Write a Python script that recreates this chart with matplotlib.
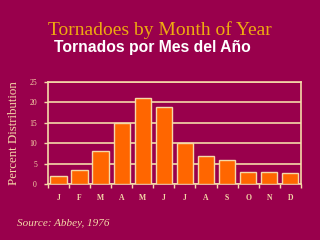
import matplotlib
matplotlib.use("Agg")
import matplotlib.pyplot as plt
import numpy as np

months = ["J", "F", "M", "A", "M", "J", "J", "A", "S", "O", "N", "D"]
percent = [2, 3.5, 8, 15, 21, 19, 10, 7, 6, 3, 3, 2.8]
yticks = [0, 5, 10, 15, 20, 25]

bg = "#99004C"
cream = "#F5D9A8"
bar_c = "#FF6600"

fig = plt.figure(figsize=(3.2, 2.4), dpi=100, facecolor=bg)
ax = fig.add_axes([0.15, 0.233, 0.79, 0.425], facecolor=bg)

x = np.arange(len(months))
ax.bar(x, percent, width=0.78, color=bar_c, edgecolor=cream, linewidth=1.0, zorder=3)

ax.set_xlim(-0.5, len(months) - 0.5)
ax.set_ylim(0, 25)
ax.set_yticks(yticks)
ax.set_yticklabels([str(v) for v in yticks], family="Liberation Serif", fontsize=5.5, color=cream)
ax.set_xticks(x)
ax.set_xticklabels(months, family="Liberation Serif", fontsize=5.5, color=cream, fontweight="bold")
ax.tick_params(axis="x", length=0, pad=7.5)
ax.set_xticks(np.arange(-0.5, len(months), 1), minor=True)
ax.tick_params(axis="x", which="minor", length=3, width=1, color=cream, direction="out")
ax.tick_params(axis="y", length=3, width=1, color=cream, pad=5)
ax.yaxis.grid(True, color=cream, linewidth=1.2, zorder=1)
ax.set_axisbelow(True)
for s in ["left", "bottom", "right", "top"]:
    ax.spines[s].set_color(cream)
    ax.spines[s].set_linewidth(1.2)

ax.set_ylabel("Percent Distribution", family="Liberation Serif", fontsize=9.3, color=cream, labelpad=7)

fig.text(0.5, 0.875, "Tornadoes by Month of Year", ha="center", va="center",
         family="Liberation Serif", fontsize=14, color="#EEAA10")
fig.text(0.475, 0.803, "Tornados por Mes del Año", ha="center", va="center",
         family="Liberation Sans", fontweight="bold", fontsize=11.3, color="white")
fig.text(0.052, 0.068, "Source: Abbey, 1976", ha="left", va="center",
         family="Liberation Serif", style="italic", fontsize=8, color=cream)

fig.savefig("out.png", dpi=100, facecolor=bg)
